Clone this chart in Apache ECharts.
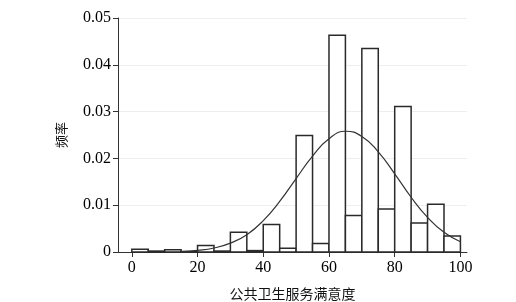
<!DOCTYPE html>
<html>
<head>
<meta charset="utf-8">
<script src="https://cdn.jsdelivr.net/npm/echarts@6/dist/echarts.min.js"></script>
<style>
html, body { margin: 0; padding: 0; background: #fff; }
#main { width: 516px; height: 302px; }
</style>
</head>
<body>
<div id="main"></div>
<script>
// histogram bins (width 5) and frequency density
var binStarts = [0, 5, 10, 15, 20, 25, 30, 35, 40, 45, 50, 55, 60, 65, 70, 75, 80, 85, 90, 95];
var binWidth = 5;
var freq = [0.0006, 0.0002, 0.0005, 0.0001, 0.0014, 0.0002, 0.0042, 0.0003, 0.0059, 0.0008,
            0.0249, 0.0018, 0.0463, 0.0078, 0.0435, 0.0092, 0.0311, 0.0062, 0.0102, 0.0034];
// fitted curve
var curveX = [15, 20, 25, 30, 35, 40, 45, 50, 55, 60, 65, 70, 75, 80, 85, 90, 95, 100];
var curveY = [0.0001, 0.00035, 0.00085, 0.0019, 0.0037, 0.0067, 0.0108, 0.0157, 0.0205, 0.0242,
              0.0258, 0.0247, 0.0214, 0.0167, 0.0117, 0.0074, 0.0042, 0.0022];
var xTicks = [0, 20, 40, 60, 80, 100];

var chart = echarts.init(document.getElementById("main"));

var barData = [];
for (var i = 0; i < binStarts.length; i++) {
    barData.push([binStarts[i], binStarts[i] + binWidth, freq[i]]);
}
var lineData = [];
for (var j = 0; j < curveX.length; j++) {
    lineData.push([curveX[j], curveY[j]]);
}

var font = "'Liberation Serif', 'DejaVu Serif', serif";

var option = {
    animation: false,
    grid: { left: 118, right: 49, top: 18, bottom: 50, outerBoundsMode: 'none', containLabel: false },
    xAxis: {
        type: 'value',
        min: -4.2,
        max: 102,
        name: '公共卫生服务满意度',
        nameLocation: 'middle',
        nameGap: 35,
        nameTextStyle: { fontFamily: "'Noto Sans CJK SC'", fontSize: 14, color: '#111' },
        axisLine: { onZero: false, lineStyle: { color: '#333', width: 1 } },
        axisTick: { show: true, length: 5, customValues: xTicks, lineStyle: { color: '#333' } },
        axisLabel: { customValues: xTicks, fontFamily: font, fontSize: 16, color: '#000', margin: 8 },
        splitLine: { show: false }
    },
    yAxis: {
        type: 'value',
        min: 0,
        max: 0.05,
        interval: 0.01,
        name: '频率',
        nameLocation: 'middle',
        nameGap: 50,
        nameRotate: 90,
        nameTextStyle: { fontFamily: "'Noto Sans CJK SC'", fontSize: 13, color: '#111' },
        axisLine: { show: true, onZero: false, lineStyle: { color: '#333', width: 1 } },
        axisTick: { show: true, length: 5, lineStyle: { color: '#333' } },
        axisLabel: {
            fontFamily: font, fontSize: 16, color: '#000', margin: 7,
            formatter: function (v) { return v === 0 ? '0' : v.toFixed(2); }
        },
        splitLine: { show: true, lineStyle: { color: '#eeeeee', width: 1 } }
    },
    series: [{
        type: 'custom',
        data: barData,
        renderItem: function (params, api) {
            var p0 = api.coord([api.value(0), api.value(2)]);
            var p1 = api.coord([api.value(1), 0]);
            return {
                type: 'rect',
                shape: { x: p0[0], y: p0[1], width: p1[0] - p0[0], height: p1[1] - p0[1] },
                style: { fill: '#fff', stroke: '#2a2a2a', lineWidth: 1.5 }
            };
        },
        encode: { x: [0, 1], y: 2 },
        z: 2
    }, {
        type: 'line',
        data: lineData,
        smooth: true,
        showSymbol: false,
        lineStyle: { color: '#333', width: 1.2 },
        z: 3
    }]
};
chart.setOption(option);
</script>
</body>
</html>
